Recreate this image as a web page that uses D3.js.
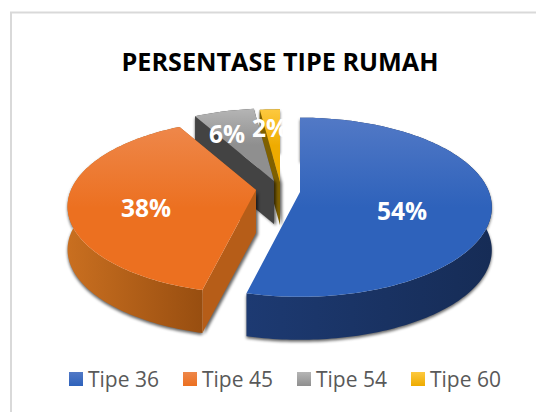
<!DOCTYPE html>
<html><head><meta charset="utf-8">
<script src="https://cdn.jsdelivr.net/npm/d3@7/dist/d3.min.js"></script>
<style>html,body{margin:0;padding:0;background:#fff}svg{display:block}text{font-family:"Open Sans",sans-serif}</style>
</head><body><svg id="c" width="536" height="412"></svg>
<script>
const categories = ["Tipe 36","Tipe 45","Tipe 54","Tipe 60"];
const values = [53.8,38.2,6,2];
const title = "PERSENTASE TIPE RUMAH";
const topLight = ["#5279c6","#ee874a","#b5b5b5","#fdc93f"];
const topDark  = ["#2e62bb","#ec7020","#8f8f8f","#eeab00"];
const rimLeft  = ["#1d3a72","#c96f20","#555","#8a6a00"];
const rimRight = ["#162c56","#984e10","#444","#7a5c00"];
const radial   = ["#1d3a6e","#b65d18","#434343","#7f6000"];
const legendLight = ["#5279c6","#ee874a","#b5b5b5","#fdc93f"];
const legendDark = ["#2e62bb","#ec7020","#8f8f8f","#eeab00"];

const centers = [[300,192],[256,190],[274,181],[280,182]];
const radii = [189,185,188,188];
const radiiY = [87,84,85,85];
const persp = [0.17,0.19,0.17,0.17];
const labelPos = [[402,211],[146,208],[227,134],[270,128]];
const D=43;

const svg=d3.select("#c");
svg.append("rect").attr("x",11).attr("y",12.5).attr("width",540).attr("height",410)
  .attr("fill","#fff").attr("stroke","#d9d9d9").attr("stroke-width",2);

const defs=svg.append("defs");
const f=defs.append("filter").attr("id","sh").attr("x","-20%").attr("y","-20%").attr("width","140%").attr("height","140%");
f.append("feGaussianBlur").attr("stdDeviation",1.6);
const slices=d3.pie().sort(null).startAngle(0).endAngle(2*Math.PI)(values);
const proj=(i,a,dz=0)=>{
  const s=Math.sin(a),c=Math.cos(a),w=1+persp[i]*c;
  return [centers[i][0]+radii[i]*s/w, centers[i][1]-radiiY[i]*c/w+dz];
};
const line=d3.line();
function rimPts(i,a0,a1,dz){
  const n=Math.max(4,Math.ceil((a1-a0)/0.02));
  return d3.range(n+1).map(k=>proj(i,a0+(a1-a0)*k/n,dz));
}
slices.forEach((d,i)=>{
  const g0=defs.append("linearGradient").attr("id","t"+i).attr("x1",0).attr("y1",0).attr("x2",0).attr("y2",1);
  g0.append("stop").attr("offset",0).attr("stop-color",topLight[i]);
  g0.append("stop").attr("offset",.5).attr("stop-color",topDark[i]);
  const g1=defs.append("linearGradient").attr("id","r"+i).attr("x1",0).attr("y1",0).attr("x2",1).attr("y2",0);
  g1.append("stop").attr("offset",0).attr("stop-color",rimLeft[i]);
  g1.append("stop").attr("offset",1).attr("stop-color",rimRight[i]);
  const g2=defs.append("linearGradient").attr("id","l"+i).attr("x1",0).attr("y1",0).attr("x2",0).attr("y2",1);
  g2.append("stop").attr("offset",0).attr("stop-color",legendLight[i]);
  g2.append("stop").attr("offset",1).attr("stop-color",legendDark[i]);
});
[3,2,1,0].forEach(i=>{
  const d=slices[i],g=svg.append("g");
  const c=centers[i];
  const wall=[...rimPts(i,d.startAngle,d.endAngle,0),...rimPts(i,d.startAngle,d.endAngle,D).reverse()];
  const sa=[proj(i,d.startAngle,0),[c[0],c[1]],[c[0],c[1]+D],proj(i,d.startAngle,D)];
  const sb=[proj(i,d.endAngle,0),[c[0],c[1]],[c[0],c[1]+D],proj(i,d.endAngle,D)];
  g.append("path").attr("d",line(wall)+"Z").attr("fill","#000").attr("opacity",.6).attr("filter","url(#sh)").attr("transform","translate(0,2)");
  g.append("path").attr("d",line(sa)+"Z").attr("fill","#000").attr("opacity",.6).attr("filter","url(#sh)").attr("transform",i==0?"translate(-2,-35)":"translate(2,1.5)");
  g.append("path").attr("d",line(wall)+"Z").attr("fill",`url(#r${i})`);
  if(i>0) g.append("path").attr("d",line(sb)+"Z").attr("fill",radial[i]);
  g.append("path").attr("d",line(sa)+"Z").attr("fill",radial[i]);
  g.append("path").attr("d",line([[c[0],c[1]],...rimPts(i,d.startAngle,d.endAngle,0)])+"Z").attr("fill",`url(#t${i})`);
});
svg.selectAll("text.lab").data(values).join("text").attr("class","lab")
  .attr("x",(d,i)=>labelPos[i][0]).attr("y",(d,i)=>labelPos[i][1]).attr("dy","0.36em")
  .attr("text-anchor","middle").attr("fill","#fff").attr("font-size",24.5).attr("font-weight",700)
  .text(d=>Math.round(d)+"%");
svg.append("text").attr("x",280).attr("y",62).attr("dy","0.36em").attr("text-anchor","middle")
  .attr("font-size",25.2).attr("font-weight",700).attr("fill","#000").text(title);
const lx=d3.scalePoint().domain(categories).range([69,411]);
const lg=svg.selectAll("g.lg").data(categories).join("g").attr("class","lg").attr("transform",d=>`translate(${lx(d)},372)`);
lg.append("rect").attr("width",14).attr("height",14).attr("fill",(d,i)=>`url(#l${i})`);
lg.append("text").attr("x",19).attr("y",7).attr("dy","0.36em").attr("font-size",21).attr("fill","#595959").text(d=>d);
</script></body></html>
